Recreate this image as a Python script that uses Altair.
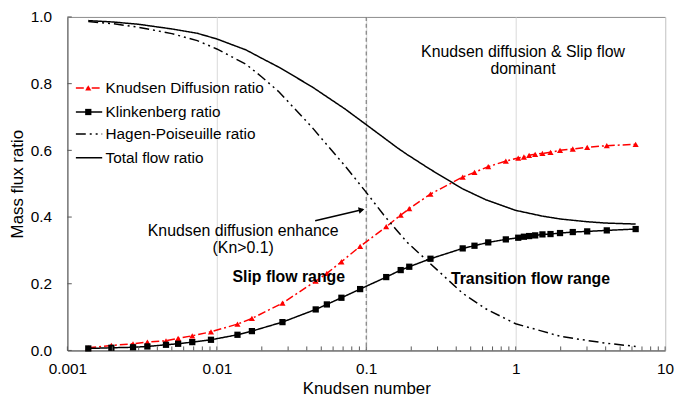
import altair as alt
import pandas as pd

# ---------------- data ----------------
series_names = ["Knudsen Diffusion ratio", "Klinkenberg ratio",
                "Hagen-Poiseuille ratio", "Total flow ratio"]

marker_kn = [0.00138, 0.00197, 0.00275, 0.00343, 0.00457, 0.00551, 0.00685,
             0.00914, 0.01375, 0.01717, 0.0275, 0.0459, 0.0545, 0.0682, 0.091,
             0.136, 0.170, 0.194, 0.269, 0.442, 0.530, 0.655, 0.859, 1.04,
             1.135, 1.23, 1.35, 1.51, 1.71, 1.98, 2.41, 3.01, 4.07, 6.35]

kd_ratio = [0.008, 0.015, 0.020, 0.025, 0.029, 0.036, 0.044, 0.056, 0.079,
            0.096, 0.142, 0.208, 0.231, 0.266, 0.312, 0.371, 0.406, 0.425,
            0.469, 0.520, 0.534, 0.551, 0.568, 0.577, 0.580, 0.585, 0.588,
            0.591, 0.594, 0.600, 0.604, 0.609, 0.614, 0.618]

kl_ratio = [0.006, 0.008, 0.0095, 0.012, 0.017, 0.020, 0.025, 0.032, 0.047,
            0.058, 0.085, 0.123, 0.138, 0.158, 0.184, 0.220, 0.241, 0.251,
            0.275, 0.306, 0.314, 0.324, 0.333, 0.338, 0.341, 0.343, 0.345,
            0.348, 0.349, 0.352, 0.355, 0.357, 0.360, 0.364]

curve_kn = [0.00138, 0.002, 0.003, 0.005, 0.0074, 0.01, 0.0157, 0.02, 0.0261,
            0.0432, 0.0716, 0.1, 0.131, 0.161, 0.187, 0.266, 0.44, 0.63, 1.0,
            1.5, 2.0, 3.0, 4.0, 6.35]

hp_ratio = [0.986, 0.980, 0.969, 0.950, 0.929, 0.904, 0.858, 0.820, 0.775,
            0.670, 0.555, 0.474, 0.406, 0.359, 0.325, 0.262, 0.172, 0.125,
            0.080, 0.058, 0.042, 0.030, 0.022, 0.012]

total_ratio = [0.989, 0.985, 0.978, 0.964, 0.951, 0.934, 0.901, 0.876, 0.849,
               0.791, 0.725, 0.677, 0.638, 0.608, 0.588, 0.544, 0.485, 0.452,
               0.420, 0.403, 0.394, 0.386, 0.382, 0.379]

x_tick_values = [0.001, 0.01, 0.1, 1, 10]
y_tick_values = [0.0, 0.2, 0.4, 0.6, 0.8, 1.0]

annotations = [
    ("Knudsen diffusion & Slip flow", 1.12, 0.896, "normal"),
    ("dominant", 1.12, 0.844, "normal"),
    ("Knudsen diffusion enhance", 0.0150, 0.358, "normal"),
    ("(Kn>0.1)", 0.0150, 0.308, "normal"),
    ("Slip flow range", 0.0303, 0.220, "bold"),
    ("Transition flow range", 1.256, 0.215, "bold"),
]

# ---------------- styling ----------------
FONT = "Liberation Sans"
W, H = 604, 337
dash_range = [[8, 3, 2, 3], [1, 0], [10, 4, 2, 4, 2, 4], [1, 0]]
color_range = ["#ff0000", "#000000", "#000000", "#000000"]
AXIS_COL = "#595959"

xs = alt.Scale(type="log", domain=[0.001, 10], nice=False)
ys = alt.Scale(domain=[0, 1], nice=False)

x_axis = alt.Axis(values=x_tick_values, format="~g", title="Knudsen number",
                  grid=True, gridColor="#d9d9d9", gridWidth=1, ticks=False,
                  tickSize=0, labelPadding=11, titlePadding=4, labelFlush=False,
                  domainColor=AXIS_COL)
y_axis = alt.Axis(values=y_tick_values, format=".1f", title="Mass flux  ratio",
                  grid=False, ticks=False, tickSize=0, labelPadding=16,
                  titlePadding=4, labelFlush=False, domainColor=AXIS_COL)


def X(field="kn"):
    return alt.X(f"{field}:Q", scale=xs, axis=x_axis)


def Y(field="ratio"):
    return alt.Y(f"{field}:Q", scale=ys, axis=y_axis)


color_enc = alt.Color("series:N", scale=alt.Scale(domain=series_names, range=color_range), legend=None)
dash_enc = alt.StrokeDash("series:N", scale=alt.Scale(domain=series_names, range=dash_range), legend=None)

# ---------------- tables ----------------
rows = []
for kn, v in zip(marker_kn, kd_ratio):
    rows.append({"series": series_names[0], "kn": kn, "ratio": v})
for kn, v in zip(marker_kn, kl_ratio):
    rows.append({"series": series_names[1], "kn": kn, "ratio": v})
for kn, v in zip(curve_kn, hp_ratio):
    rows.append({"series": series_names[2], "kn": kn, "ratio": v})
for kn, v in zip(curve_kn, total_ratio):
    rows.append({"series": series_names[3], "kn": kn, "ratio": v})
lines_df = pd.DataFrame(rows)

kd_df = pd.DataFrame({"kn": marker_kn, "ratio": kd_ratio})
kl_df = pd.DataFrame({"kn": marker_kn, "ratio": kl_ratio})

ann_df = pd.DataFrame(annotations, columns=["text", "kn", "ratio", "weight"])

# tick marks (drawn inward like the original)
minor_x = []
for d in [0.001, 0.01, 0.1, 1]:
    for k in range(1, 10):
        minor_x.append(round(k * d, 6))
minor_x.append(10)
xtick_df = pd.DataFrame({"kn": minor_x, "ratio": [0.0] * len(minor_x),
                         "ratio2": [0.012] * len(minor_x)})
ytick_df = pd.DataFrame({"kn": [0.001] * len(y_tick_values),
                         "kn2": [0.00107] * len(y_tick_values),
                         "ratio": y_tick_values})

# legend (inside the plot, top-left)
legend_rows = [0.787, 0.715, 0.649, 0.578]
legend_df = pd.DataFrame({"series": series_names, "ratio": legend_rows,
                          "kn": [0.00114] * 4, "kn2": [0.00171] * 4,
                          "tx": [0.0018] * 4})

# ---------------- layers ----------------
vline = alt.Chart(pd.DataFrame({"kn": [0.1]})).mark_rule(
    color="#7f7f7f", strokeDash=[4, 3], strokeWidth=1.2).encode(x=X())

lines = alt.Chart(lines_df).mark_line(strokeWidth=1.5).encode(
    x=X(), y=Y(), color=color_enc, strokeDash=dash_enc, detail="series:N")

kd_pts = alt.Chart(kd_df).mark_point(shape="triangle-up", filled=True, size=38,
                                     color="#ff0000", opacity=1).encode(x=X(), y=Y())
kl_pts = alt.Chart(kl_df).mark_point(shape="square", filled=True, size=40,
                                     color="#000000", opacity=1).encode(x=X(), y=Y())

ann_normal = alt.Chart(ann_df[ann_df.weight == "normal"]).mark_text(
    font=FONT, fontSize=16, align="center", baseline="middle", color="#000").encode(
    x=X(), y=Y(), text="text:N")
ann_bold = alt.Chart(ann_df[ann_df.weight == "bold"]).mark_text(
    font=FONT, fontSize=16, fontWeight="bold", align="center", baseline="middle",
    color="#000").encode(x=X(), y=Y(), text="text:N")

arrow_df = pd.DataFrame({"kn": [0.0455], "ratio": [0.389], "kn2": [0.095], "ratio2": [0.4225]})
arrow_line = alt.Chart(arrow_df).mark_rule(color="#000", strokeWidth=1.5).encode(
    x=X(), y=Y(), x2="kn2:Q", y2="ratio2:Q")
arrow_head = alt.Chart(pd.DataFrame({"kn": [0.093], "ratio": [0.4215]})).mark_point(
    shape="triangle-right", filled=True, size=45, angle=347, color="#000", opacity=1).encode(
    x=X(), y=Y())

leg_lines = alt.Chart(legend_df).mark_rule(strokeWidth=1.5).encode(
    x=X(), x2="kn2:Q", y=Y(), color=color_enc, strokeDash=dash_enc)
leg_kd = alt.Chart(legend_df.iloc[[0]]).mark_point(shape="triangle-up", filled=True, size=38,
                                                   color="#ff0000", opacity=1).encode(
    x=alt.X("kmid:Q", scale=xs, axis=x_axis), y=Y()).transform_calculate(kmid="0.00138")
leg_kl = alt.Chart(legend_df.iloc[[1]]).mark_point(shape="square", filled=True, size=40,
                                                   color="#000", opacity=1).encode(
    x=alt.X("kmid:Q", scale=xs, axis=x_axis), y=Y()).transform_calculate(kmid="0.00138")
leg_text = alt.Chart(legend_df).mark_text(font=FONT, fontSize=15.5, align="left",
                                          baseline="middle", color="#000").encode(
    x=alt.X("tx:Q", scale=xs, axis=x_axis), y=Y(), text="series:N")

xticks = alt.Chart(xtick_df).mark_rule(color=AXIS_COL, strokeWidth=1).encode(
    x=X(), y=Y(), y2="ratio2:Q")
yticks = alt.Chart(ytick_df).mark_rule(color=AXIS_COL, strokeWidth=1).encode(
    x=X(), x2="kn2:Q", y=Y())

chart = alt.layer(
    vline, lines, kd_pts, kl_pts, ann_normal, ann_bold, arrow_line, arrow_head,
    leg_lines, leg_kd, leg_kl, leg_text, xticks, yticks
).properties(
    width=W, height=H,
    autosize=alt.AutoSizeParams(type="none"),
    padding={"left": 60, "top": 7, "right": 12, "bottom": 45},
).configure_view(
    stroke="#8c8c8c", strokeWidth=1
).configure_axis(
    labelFont=FONT, labelFontSize=15.5, labelColor="#000",
    titleFont=FONT, titleFontSize=17, titleColor="#000", titleFontWeight="normal",
)

chart.save("out.html", embed_options={"renderer": "svg", "actions": False})
